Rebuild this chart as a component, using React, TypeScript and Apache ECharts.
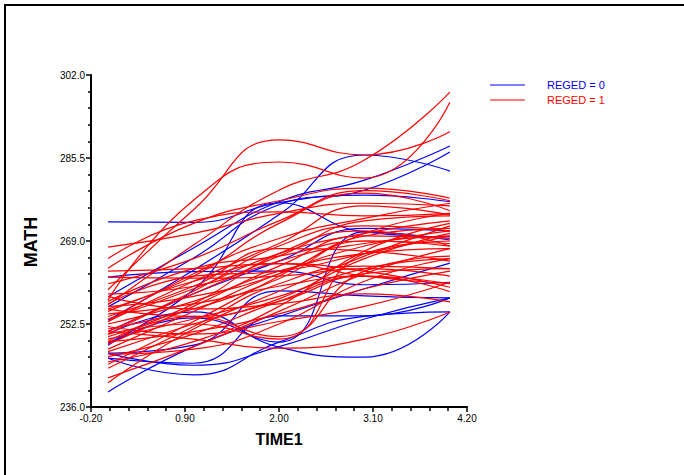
import React, { useEffect, useRef } from "react";
import * as echarts from "echarts";

const times = [0, 1, 2, 3, 4];
const xTicks = { min: -0.2, max: 4.2, interval: 1.1 };
const yTicks = { min: 236, max: 302, interval: 16.5 };

// REGED = 0 (blue) curves: MATH at TIME1 = 0..4
const reged0: number[][] = [
  [272.8, 272.7, 276.6, 278.1, 276.8],
  [257.9, 267.6, 276.8, 281.1, 287.9],
  [253.3, 263.2, 274.2, 286.1, 282.9],
  [255.9, 265.6, 276.2, 279.1, 286.7],
  [248.7, 259.3, 276.6, 270.8, 269.8],
  [248.3, 253.7, 248.9, 270.8, 269.2],
  [261.8, 262.9, 263.0, 260.3, 260.8],
  [246.7, 248.3, 259.1, 258.1, 257.7],
  [245.7, 244.7, 254.1, 254.1, 257.7],
  [250.5, 254.9, 247.9, 245.9, 254.9],
  [239.0, 248.0, 254.0, 259.5, 264.6],
  [245.7, 242.4, 248.9, 254.0, 254.9],
  [246.7, 244.3, 248.0, 253.5, 257.7],
  [251.0, 258.5, 265.0, 271.5, 271.0],
];

// REGED = 1 (red) curves: MATH at TIME1 = 0..4
const reged1: number[][] = [
  [257.3, 277.1, 284.7, 281.5, 296.6],
  [259.3, 275.2, 289.1, 286.1, 290.7],
  [256.3, 268.2, 279.1, 285.1, 298.6],
  [267.8, 270.5, 274.5, 276.5, 276.0],
  [263.6, 272.5, 277.0, 279.5, 277.5],
  [261.8, 261.6, 262.0, 263.5, 262.0],
  [260.5, 265.5, 273.0, 279.0, 277.0],
  [255.5, 262.0, 272.5, 278.5, 275.0],
  [253.0, 261.0, 268.5, 276.0, 274.2],
  [251.0, 249.5, 247.7, 249.5, 254.9],
  [250.5, 252.5, 249.5, 266.5, 269.0],
  [249.0, 254.0, 250.0, 263.0, 266.0],
  [240.8, 251.5, 259.0, 266.0, 272.0],
  [241.8, 248.0, 255.0, 262.5, 267.5],
  [243.7, 252.0, 260.5, 264.0, 263.5],
  [246.0, 250.5, 257.0, 262.0, 260.5],
  [247.5, 255.0, 262.5, 268.0, 271.0],
  [248.5, 256.0, 264.0, 270.0, 269.5],
  [249.5, 253.5, 258.0, 263.5, 265.5],
  [250.5, 258.5, 265.0, 268.5, 270.0],
  [251.5, 255.5, 261.5, 269.0, 268.0],
  [252.5, 257.0, 263.0, 266.5, 267.5],
  [253.5, 259.5, 266.5, 270.5, 273.0],
  [254.5, 256.5, 260.0, 262.0, 258.9],
  [255.0, 261.0, 264.5, 263.0, 259.8],
  [256.0, 258.0, 262.5, 270.0, 271.5],
  [257.0, 263.5, 266.0, 269.0, 268.5],
  [258.0, 255.5, 256.5, 258.5, 256.9],
  [252.0, 250.5, 253.0, 256.0, 260.8],
  [247.0, 252.5, 257.5, 265.5, 270.5],
  [245.0, 249.0, 256.0, 267.0, 272.5],
  [244.5, 253.0, 262.0, 270.5, 274.5],
  [249.0, 251.0, 254.5, 259.5, 263.0],
  [251.0, 259.0, 268.0, 272.0, 271.0],
  [253.0, 262.5, 269.5, 273.5, 276.5],
  [250.0, 256.5, 266.5, 271.0, 268.0],
  [254.0, 260.0, 267.5, 267.0, 265.0],
  [246.5, 247.5, 252.5, 261.0, 265.5],
  [255.5, 254.0, 257.0, 262.5, 263.5],
  [258.5, 260.0, 266.0, 273.0, 274.0],
  [256.5, 262.0, 263.0, 266.5, 270.0],
  [263.0, 263.5, 264.5, 262.0, 260.5],
  [265.5, 273.0, 274.8, 274.0, 274.5],
];

const legendNames = ["REGED = 0", "REGED = 1"];
const colors = ["#0000FF", "#FF0000"];

export default function App() {
  const ref = useRef<HTMLDivElement>(null);
  useEffect(() => {
    document.body.style.margin = "0";
    if (!ref.current) return;
    const chart = echarts.init(ref.current, null, { renderer: "svg" });
    const mk = (rows: number[][], gi: number) =>
      rows.map((r) => ({
        type: "line",
        name: legendNames[gi],
        data: r.map((v, i) => [times[i], v]),
        smooth: 0.5,
        symbol: "none",
        silent: true,
        lineStyle: { color: colors[gi], width: 1.2 },
        itemStyle: { color: colors[gi] },
      }));
    const font = "'Liberation Sans', Arial, sans-serif";
    chart.setOption({
      animation: false,
      grid: { left: 91, right: 217, top: 75, bottom: 68, containLabel: false },
      xAxis: {
        type: "value",
        min: xTicks.min,
        max: xTicks.max,
        interval: xTicks.interval,
        axisLine: { onZero: false, lineStyle: { color: "#000", width: 2 } },
        axisTick: { length: 5, lineStyle: { color: "#000", width: 1.5 } },
        minorTick: { show: true, splitNumber: 5, length: 4, lineStyle: { color: "#000", width: 1.5 } },
        splitLine: { show: false },
        axisLabel: {
          formatter: (v: number) => v.toFixed(2),
          margin: 6,
          fontSize: 10,
          color: "#000",
          fontFamily: font,
        },
      },
      yAxis: {
        type: "value",
        min: yTicks.min,
        max: yTicks.max,
        interval: yTicks.interval,
        axisLine: { show: true, onZero: false, lineStyle: { color: "#000", width: 2 } },
        axisTick: { show: true, length: 5, lineStyle: { color: "#000", width: 1.5 } },
        minorTick: { show: true, splitNumber: 5, length: 3, lineStyle: { color: "#000", width: 1.5 } },
        splitLine: { show: false },
        axisLabel: {
          formatter: (v: number) => v.toFixed(1),
          margin: 6,
          fontSize: 10,
          color: "#000",
          fontFamily: font,
        },
      },
      graphic: [
        {
          type: "rect",
          shape: { x: 5, y: 5, width: 700, height: 500 },
          style: { fill: "none", stroke: "#000", lineWidth: 2 },
          silent: true,
        },
        {
          type: "text",
          x: 31,
          y: 242,
          rotation: Math.PI / 2,
          style: {
            text: "MATH",
            fill: "#000",
            font: `bold 18px ${font}`,
            align: "center",
            verticalAlign: "middle",
          },
        },
        {
          type: "text",
          x: 279,
          y: 439,
          style: {
            text: "TIME1",
            fill: "#000",
            font: `bold 16px ${font}`,
            align: "center",
            verticalAlign: "middle",
          },
        },
        {
          type: "line",
          shape: { x1: 490, y1: 85, x2: 525, y2: 85 },
          style: { stroke: colors[0], lineWidth: 1.2 },
        },
        {
          type: "text",
          x: 547,
          y: 85,
          style: {
            text: legendNames[0],
            fill: colors[0],
            font: `11px ${font}`,
            align: "left",
            verticalAlign: "middle",
          },
        },
        {
          type: "line",
          shape: { x1: 490, y1: 100, x2: 525, y2: 100 },
          style: { stroke: colors[1], lineWidth: 1.2 },
        },
        {
          type: "text",
          x: 547,
          y: 100,
          style: {
            text: legendNames[1],
            fill: colors[1],
            font: `11px ${font}`,
            align: "left",
            verticalAlign: "middle",
          },
        },
      ],
      series: [...mk(reged0, 0), ...mk(reged1, 1)],
    });
    return () => chart.dispose();
  }, []);
  return <div ref={ref} style={{ width: 684, height: 475, background: "#fff" }} />;
}
